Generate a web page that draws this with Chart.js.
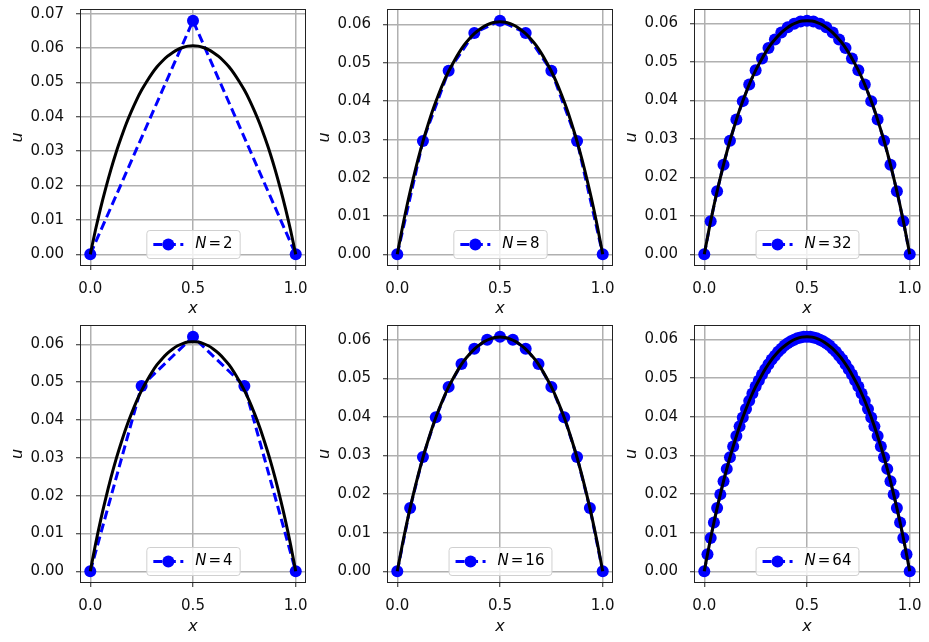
<!DOCTYPE html>
<html>
<head>
<meta charset="utf-8">
<script src="https://cdn.jsdelivr.net/npm/chart.js@4.4.1/dist/chart.umd.min.js"></script>
<style>
  body { margin: 0; background: #fff; overflow: hidden; }
  #wrap { position: relative; width: 929px; height: 642px; overflow: hidden; }
  canvas { position: absolute; }
</style>
</head>
<body>
<div id="wrap"></div>
<script>
// exact solution, x = 0 .. 1 step 0.025
const uExact = [0, 0.0070, 0.0134, 0.0192, 0.0246, 0.0295, 0.0339, 0.0380, 0.0416, 0.0449, 0.0478,
    0.0503, 0.0526, 0.0546, 0.0562, 0.0576, 0.0587, 0.0596, 0.0602, 0.0606, 0.0607,
    0.0606, 0.0602, 0.0596, 0.0587, 0.0576, 0.0562, 0.0546, 0.0526, 0.0503, 0.0478,
    0.0449, 0.0416, 0.0380, 0.0339, 0.0295, 0.0246, 0.0192, 0.0134, 0.0070, 0];

// numerical solutions (blue markers), grid x = i/N
const u2 = [0, 0.068, 0];
const u4 = [0, 0.049, 0.062, 0.049, 0];
const u8 = [0, 0.0296, 0.0479, 0.0578, 0.0610, 0.0578, 0.0479, 0.0296, 0];
const u16 = [0, 0.0164, 0.0296, 0.0399, 0.0478, 0.0537, 0.0577, 0.0600, 0.0608,
    0.0600, 0.0577, 0.0537, 0.0478, 0.0399, 0.0296, 0.0164, 0];
const u32 = [0, 0.0086, 0.0164, 0.0233, 0.0295, 0.0350, 0.0398, 0.0441, 0.0478, 0.0509, 0.0536,
    0.0558, 0.0576, 0.0590, 0.0599, 0.0605, 0.0607, 0.0605, 0.0599, 0.0590, 0.0576, 0.0558,
    0.0536, 0.0509, 0.0478, 0.0441, 0.0398, 0.0350, 0.0295, 0.0233, 0.0164, 0.0086, 0];
const u64 = [0, 0.0044, 0.0086, 0.0126, 0.0164, 0.0199, 0.0233, 0.0265, 0.0295, 0.0323, 0.0350,
    0.0375, 0.0398, 0.0420, 0.0441, 0.0460, 0.0478, 0.0494, 0.0509, 0.0523, 0.0536, 0.0548,
    0.0558, 0.0568, 0.0576, 0.0584, 0.0590, 0.0595, 0.0599, 0.0603, 0.0605, 0.0607, 0.0607,
    0.0607, 0.0605, 0.0603, 0.0599, 0.0595, 0.0590, 0.0584, 0.0576, 0.0568, 0.0558, 0.0548,
    0.0536, 0.0523, 0.0509, 0.0494, 0.0478, 0.0460, 0.0441, 0.0420, 0.0398, 0.0375, 0.0350,
    0.0323, 0.0295, 0.0265, 0.0233, 0.0199, 0.0164, 0.0126, 0.0086, 0.0044, 0];

const xTicks = [0, 0.5, 1.0];
const yTicks7 = [0, 0.01, 0.02, 0.03, 0.04, 0.05, 0.06, 0.07];
const yTicks6 = [0, 0.01, 0.02, 0.03, 0.04, 0.05, 0.06];

// panel order: top row N=2, 8, 32 ; bottom row N=4, 16, 64
const panels = [
    { n: 2, u: u2, row: 0, col: 0, yTicks: yTicks7 },
    { n: 8, u: u8, row: 0, col: 1, yTicks: yTicks6 },
    { n: 32, u: u32, row: 0, col: 2, yTicks: yTicks6 },
    { n: 4, u: u4, row: 1, col: 0, yTicks: yTicks6 },
    { n: 16, u: u16, row: 1, col: 1, yTicks: yTicks6 },
    { n: 64, u: u64, row: 1, col: 2, yTicks: yTicks6 }
];

const FONT = "'DejaVu Sans', sans-serif";
const colLeft = [80, 387, 694];
const plotW = 226;
const PADTOP = 20, PADRIGHT = 20;
const rows = [
    { top: 8, plotH: 258, axisH: 54, titlePad: 2 },
    { top: 324, plotH: 259, axisH: 59, titlePad: 5.5 }
];

function toPoints(arr) {
    const n = arr.length - 1;
    return arr.map((v, i) => ({ x: i / n, y: v }));
}

// frame on all four sides + matplotlib style legend
const frameLegend = {
    id: 'frameLegend',
    afterDatasetsDraw(chart, args, opts) {
        const ctx = chart.ctx;
        const a = chart.chartArea;
        ctx.save();
        ctx.strokeStyle = '#222';
        ctx.lineWidth = 1;
        ctx.strokeRect(Math.round(a.left) + 0.5, Math.round(a.top) + 0.5,
            Math.round(a.right - a.left) - 1, Math.round(a.bottom - a.top) - 1);

        // legend
        const fs = 15;
        ctx.font = 'italic ' + fs + 'px ' + FONT;
        const wN = ctx.measureText('N').width;
        ctx.font = fs + 'px ' + FONT;
        const wEq = ctx.measureText('=').width;
        const wNum = ctx.measureText(String(opts.n)).width;
        const textW = wN + 2 + wEq + 2 + wNum;
        const boxW = 7 + 30 + 12 + textW + 7;
        const boxH = 28;
        const bx = (a.left + a.right) / 2 - boxW / 2;
        const by = a.bottom - 8 - boxH;
        ctx.beginPath();
        ctx.roundRect(bx + 0.5, by + 0.5, boxW, boxH, 3);
        ctx.fillStyle = 'rgba(255,255,255,0.8)';
        ctx.fill();
        ctx.strokeStyle = '#d0d0d0';
        ctx.stroke();

        const cy = by + boxH / 2 + 0.5;
        ctx.beginPath();
        ctx.setLineDash([9, 4.5]);
        ctx.strokeStyle = 'blue';
        ctx.lineWidth = 3;
        ctx.moveTo(bx + 7, cy);
        ctx.lineTo(bx + 37, cy);
        ctx.stroke();
        ctx.setLineDash([]);
        ctx.beginPath();
        ctx.arc(bx + 22, cy, 6, 0, Math.PI * 2);
        ctx.fillStyle = 'blue';
        ctx.fill();

        ctx.fillStyle = '#000';
        ctx.textBaseline = 'middle';
        ctx.textAlign = 'left';
        let tx = bx + 49;
        ctx.font = 'italic ' + fs + 'px ' + FONT;
        ctx.fillText('N', tx, cy);
        tx += wN + 2;
        ctx.font = fs + 'px ' + FONT;
        ctx.fillText('=', tx, cy);
        tx += wEq + 2;
        ctx.fillText(String(opts.n), tx, cy);
        ctx.restore();
    }
};

const wrap = document.getElementById('wrap');

panels.forEach(p => {
    const r = rows[p.row];
    const canvas = document.createElement('canvas');
    const cw = 80 + plotW + PADRIGHT;
    const ch = PADTOP + r.plotH + r.axisH;
    canvas.width = cw;
    canvas.height = ch;
    canvas.style.left = (colLeft[p.col] - 80) + 'px';
    canvas.style.top = (r.top - PADTOP) + 'px';
    canvas.style.width = cw + 'px';
    canvas.style.height = ch + 'px';
    wrap.appendChild(canvas);

    const dataMax = Math.max(...p.u, ...uExact);
    const yMin = -0.05 * dataMax;
    const yMax = dataMax * 1.05;

    new Chart(canvas.getContext('2d'), {
        type: 'line',
        data: {
            datasets: [
                {
                    label: 'exact',
                    data: toPoints(uExact),
                    borderColor: '#000',
                    borderWidth: 3,
                    pointRadius: 0,
                    cubicInterpolationMode: 'monotone',
                    order: 0
                },
                {
                    label: 'N=' + p.n,
                    data: toPoints(p.u),
                    borderColor: 'blue',
                    backgroundColor: 'blue',
                    borderWidth: 3,
                    borderDash: [9, 4.5],
                    pointRadius: 6,
                    pointBorderWidth: 0,
                    pointBackgroundColor: 'blue',
                    tension: 0,
                    order: 1
                }
            ]
        },
        options: {
            responsive: false,
            animation: false,
            devicePixelRatio: 1,
            layout: { padding: { top: PADTOP, right: PADRIGHT, left: 0, bottom: 0 } },
            plugins: {
                legend: { display: false },
                tooltip: { enabled: false },
                frameLegend: { n: p.n }
            },
            scales: {
                x: {
                    type: 'linear',
                    min: -0.05,
                    max: 1.05,
                    afterBuildTicks: s => { s.ticks = xTicks.map(v => ({ value: v })); },
                    afterFit: s => { s.height = r.axisH; },
                    border: { display: false },
                    grid: { color: '#b0b0b0', lineWidth: 1.5, tickColor: '#222', tickLength: 4, tickWidth: 1 },
                    ticks: {
                        color: '#111', padding: 10, maxRotation: 0,
                        font: { family: FONT, size: 15 },
                        callback: v => v.toFixed(1)
                    },
                    title: {
                        display: true, text: 'x', color: '#111',
                        font: { family: FONT, size: 16, style: 'italic' },
                        padding: { top: 0, bottom: r.titlePad }
                    }
                },
                y: {
                    type: 'linear',
                    min: yMin,
                    max: yMax,
                    afterBuildTicks: s => { s.ticks = p.yTicks.map(v => ({ value: v })); },
                    afterFit: s => { s.width = 80; },
                    border: { display: false },
                    grid: { color: '#b0b0b0', lineWidth: 1.5, tickColor: '#222', tickLength: 4, tickWidth: 1 },
                    ticks: {
                        color: '#111', padding: 12,
                        font: { family: FONT, size: 15 },
                        callback: v => v.toFixed(2)
                    },
                    title: {
                        display: true, text: 'u', color: '#111',
                        font: { family: FONT, size: 16, style: 'italic' },
                        padding: { top: 8, bottom: 0 }
                    }
                }
            }
        },
        plugins: [frameLegend]
    });
});
</script>
</body>
</html>
